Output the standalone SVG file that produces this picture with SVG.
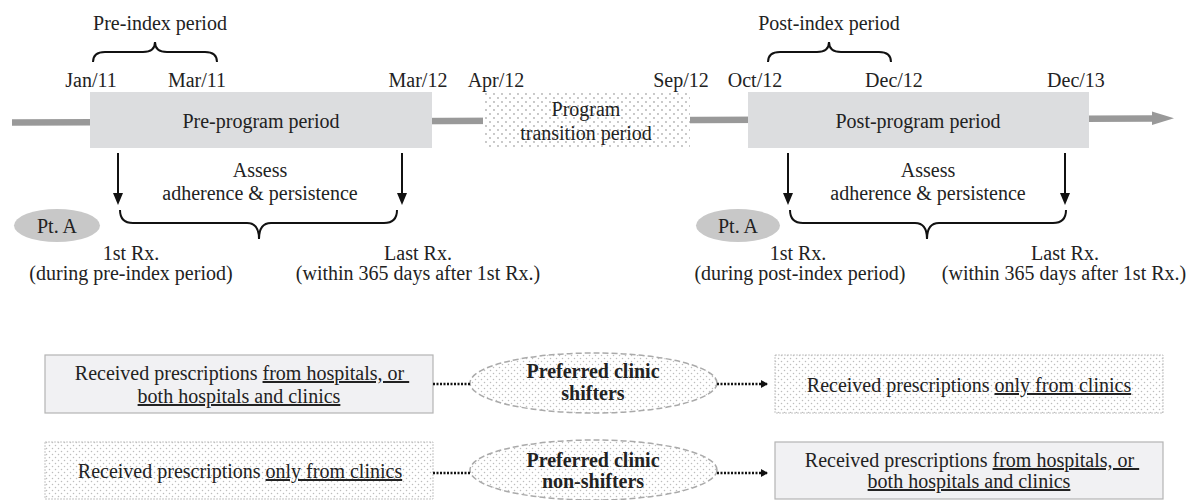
<svg xmlns="http://www.w3.org/2000/svg" width="1204" height="500" viewBox="0 0 1204 500" font-family="'Liberation Serif', Tinos, 'DejaVu Serif', serif">
<style>
text{font-family:'Liberation Serif',Tinos,'DejaVu Serif',serif;font-size:20px;fill:#222;text-anchor:middle}
.b{font-weight:bold}
.u{text-decoration:underline}
.brace{fill:none;stroke:#111;stroke-width:2}
.darr{stroke:#111;stroke-width:2}
.period{fill:#dcdddf}
.gbox{fill:#f1f1f3;stroke:#b4b4b4;stroke-width:1.2}
.dbox{fill:url(#dots);stroke:#c4c4c4;stroke-width:1;stroke-dasharray:2 1}
.oval{fill:url(#dots);stroke:#aaa;stroke-width:1.5;stroke-dasharray:6 3}
.conn{fill:none;stroke:#111;stroke-width:2.5;stroke-dasharray:2 1.5}
</style>
<defs>
<pattern id="dots" width="6" height="6" patternUnits="userSpaceOnUse">
<rect width="6" height="6" fill="#fff"/>
<circle cx="1.5" cy="1.5" r="0.75" fill="#bdbdbd"/>
<circle cx="4.5" cy="4.5" r="0.75" fill="#bdbdbd"/>
</pattern>
<pattern id="dots2" width="8" height="8" patternUnits="userSpaceOnUse">
<rect width="8" height="8" fill="#fff"/>
<circle cx="2" cy="2" r="0.9" fill="#b0b0b0"/>
<circle cx="6" cy="6" r="0.9" fill="#b0b0b0"/>
</pattern>
<marker id="ah" markerWidth="8" markerHeight="8" refX="6" refY="4" orient="auto" markerUnits="userSpaceOnUse">
<path d="M0,0 L7,4 L0,8 Z" fill="#111"/>
</marker>
</defs>

<g id="timeline">
<line x1="12" y1="122.5" x2="1153" y2="118.5" stroke="#999" stroke-width="6.5"/>
<polygon points="1152,111.5 1174,118.3 1152,125" fill="#999"/>
</g>

<g id="pre-program">
<rect class="period" x="90" y="92" width="342" height="56"/>
<text x="261" y="128">Pre-program period</text>
</g>

<g id="transition">
<rect x="483" y="93" width="207" height="56" fill="url(#dots2)"/>
<text x="586" y="116">Program</text>
<text x="586" y="140">transition period</text>
</g>

<g id="post-program">
<rect class="period" x="748" y="92" width="341" height="56"/>
<text x="918" y="128">Post-program period</text>
</g>

<g id="dates">
<text x="91" y="87">Jan/11</text>
<text x="197" y="87">Mar/11</text>
<text x="418" y="87">Mar/12</text>
<text x="496" y="87">Apr/12</text>
<text x="681" y="87">Sep/12</text>
<text x="755" y="87">Oct/12</text>
<text x="894" y="87">Dec/12</text>
<text x="1076" y="87">Dec/13</text>
</g>

<g id="pre-index">
<text x="160" y="30">Pre-index period</text>
<path class="brace" d="M93,62 Q93,52 105,52 L143,52 Q155,52 155,42 Q155,52 167,52 L205,52 Q217,52 217,62"/>
</g>

<g id="post-index">
<text x="829" y="30">Post-index period</text>
<path class="brace" d="M768,62 Q768,52 780,52 L817,52 Q829,52 829,42 Q829,52 841,52 L879,52 Q891,52 891,62"/>
</g>

<g id="pre-assess">
<line class="darr" x1="118" y1="153" x2="118" y2="194"/>
<polygon points="113,193 123,193 118,205" fill="#111"/>
<line class="darr" x1="402" y1="153" x2="402" y2="194"/>
<polygon points="397,193 407,193 402,205" fill="#111"/>
<text x="260" y="177">Assess</text>
<text x="260" y="200">adherence &amp; persistence</text>
<path class="brace" d="M120,210 Q120,223 133,223 L247,223 Q259,223 259,239 Q259,223 271,223 L384,223 Q397,223 397,210"/>
</g>

<g id="post-assess">
<line class="darr" x1="788" y1="153" x2="788" y2="194"/>
<polygon points="783,193 793,193 788,205" fill="#111"/>
<line class="darr" x1="1065" y1="153" x2="1065" y2="194"/>
<polygon points="1060,193 1070,193 1065,205" fill="#111"/>
<text x="928" y="177">Assess</text>
<text x="928" y="200">adherence &amp; persistence</text>
<path class="brace" d="M790,210 Q790,223 803,223 L915,223 Q927,223 927,239 Q927,223 939,223 L1053,223 Q1066,223 1066,210"/>
</g>

<g id="pt-a-pre">
<ellipse cx="57" cy="225.5" rx="43" ry="16.5" fill="#c8c8c8"/>
<text x="57" y="233">Pt. A</text>
</g>
<g id="pt-a-post">
<ellipse cx="738" cy="225.5" rx="42" ry="16.5" fill="#c8c8c8"/>
<text x="738" y="233">Pt. A</text>
</g>

<g id="pre-rx">
<text x="131" y="260">1st Rx.</text>
<text x="131" y="280">(during pre-index period)</text>
<text x="418" y="260">Last Rx.</text>
<text x="418" y="280">(within 365 days after 1st Rx.)</text>
</g>
<g id="post-rx">
<text x="798" y="260">1st Rx.</text>
<text x="800" y="280">(during post-index period)</text>
<text x="1065" y="260">Last Rx.</text>
<text x="1064" y="280">(within 365 days after 1st Rx.)</text>
</g>

<g id="box-hosp-1">
<rect class="gbox" x="45" y="355" width="388" height="58"/>
<text x="242" y="380">Received prescriptions <tspan class="u">from hospitals, or&#160;</tspan></text>
<text x="239" y="403"><tspan class="u">both hospitals and clinics</tspan></text>
</g>

<g id="shifters">
<ellipse class="oval" cx="593.5" cy="383" rx="123.5" ry="30"/>
<text class="b" x="593" y="378">Preferred clinic</text>
<text class="b" x="593" y="400">shifters</text>
</g>

<g id="box-clinic-1">
<rect class="dbox" x="775" y="355" width="388" height="58"/>
<text x="969" y="392">Received prescriptions <tspan class="u">only from clinics</tspan></text>
</g>

<g id="box-clinic-2">
<rect class="dbox" x="45" y="442" width="388" height="57"/>
<text x="240" y="478">Received prescriptions <tspan class="u">only from clinics</tspan></text>
</g>

<g id="non-shifters">
<ellipse class="oval" cx="593.5" cy="470" rx="123.5" ry="30"/>
<text class="b" x="593" y="467">Preferred clinic</text>
<text class="b" x="593" y="488">non-shifters</text>
</g>

<g id="box-hosp-2">
<rect class="gbox" x="775" y="442" width="388" height="57"/>
<text x="972" y="467">Received prescriptions <tspan class="u">from hospitals, or&#160;</tspan></text>
<text x="969" y="488"><tspan class="u">both hospitals and clinics</tspan></text>
</g>

<g id="connectors">
<line class="conn" x1="433" y1="384" x2="470" y2="384"/>
<line class="conn" x1="717" y1="384" x2="767" y2="384" marker-end="url(#ah)"/>
<line class="conn" x1="433" y1="473" x2="470" y2="473"/>
<line class="conn" x1="717" y1="473" x2="767" y2="473" marker-end="url(#ah)"/>
</g>
</svg>
